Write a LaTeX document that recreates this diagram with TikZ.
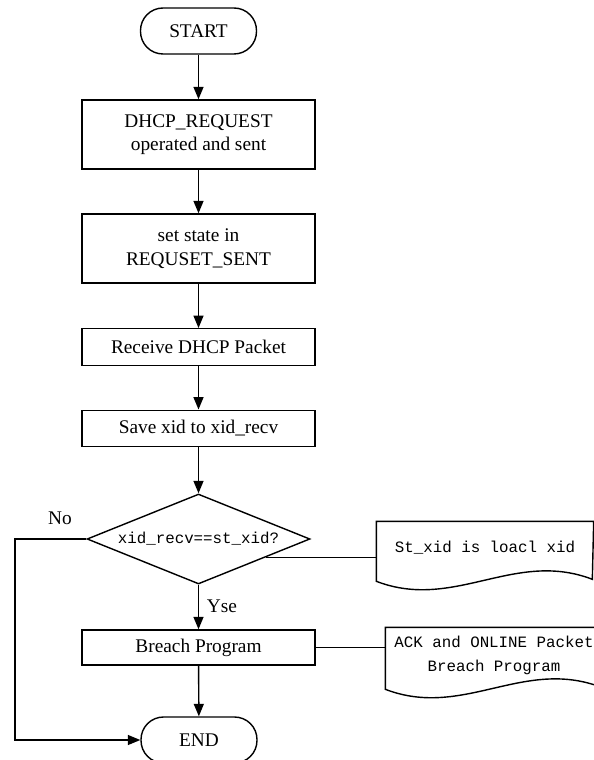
\documentclass[tikz,border=0pt]{standalone}
\usepackage{fontspec}
\setmainfont{Liberation Serif}
\setmonofont{Liberation Mono}
\usepackage{tikz}
\usetikzlibrary{shapes.geometric,arrows.meta,calc}

\begin{document}
\begin{tikzpicture}[x=0.02cm, y=-0.02cm, thick, >={Triangle[length=0.25cm,width=0.2cm]},
    term/.style={draw, rounded corners=0.45cm, minimum width=2.32cm, minimum height=0.92cm, font=\fontsize{11}{13.4}\selectfont},
    proc/.style={draw, minimum width=4.66cm, align=center, font=\fontsize{11}{13.4}\selectfont},
    cond/.style={draw, diamond, aspect=2.5, inner sep=1pt, minimum width=4.46cm, minimum height=1.8cm, font=\ttfamily\fontsize{9}{11}\selectfont},
    note/.style={minimum width=4.32cm, align=center, font=\ttfamily\fontsize{9}{13.6}\selectfont},
    lab/.style={font=\fontsize{11}{13}\selectfont}]
    \useasboundingbox (0,0) rectangle (594,760);
    % main flow
    \node[term] (start) at (198.5,31) {START};
    \node[proc, minimum height=1.38cm] (req) at (198.5,134.5) {DHCP\_REQUEST\\operated and sent};
    \node[proc, minimum height=1.38cm] (state) at (198.5,248.5) {set state in\\REQUSET\_SENT};
    \node[proc, minimum height=0.73cm] (recv) at (198.5,347) {Receive DHCP Packet};
    \node[proc, minimum height=0.73cm] (save) at (198.5,428.5) {Save xid to xid\_recv};
    \node[cond] (dec) at (198.5,539) {xid\_recv==st\_xid?};
    \node[proc, minimum height=0.7cm] (brp) at (198.5,647.5) {Breach Program};
    \node[term] (stop) at (199,740) {END};
    \draw[->] (start) -- (req);
    \draw[->] (req) -- (state);
    \draw[->] (state) -- (recv);
    \draw[->] (recv) -- (save);
    \draw[->] (save) -- (dec);
    \draw[->] (dec) -- (brp);
    \draw[->] (brp) -- (stop);
    \node[lab] (yeslab) at (222,606) {Yse};
    % No branch
    \coordinate (nocorner) at (15,539);
    \draw[->] (dec.west) -- (nocorner) |- (stop.west);
    \node[lab] (nolab) at (60,518) {No};
    % side notes
    \node[note, minimum height=1.04cm] (note1) at (485,548) {St\_xid is loacl xid};
    \draw (note1.north west) -- ++(0,60) .. controls +(78,30) and +(-78,-30) .. ++(216,-2) -- (note1.north east) -- cycle;
    \node[note, minimum height=1.08cm] (note2) at (494,655) {ACK and ONLINE Packet\\Breach Program};
    \draw (note2.north west) -- ++(0,62) .. controls +(78,30) and +(-78,-30) .. ++(216,-2) -- (note2.north east) -- cycle;
    \coordinate (tap) at ($(dec.east)!0.4!(dec.south)$);
    \draw (tap) -- (tap -| note1.west);
    \draw (brp.east) -- (brp.east -| note2.west);
\end{tikzpicture}
\end{document}
